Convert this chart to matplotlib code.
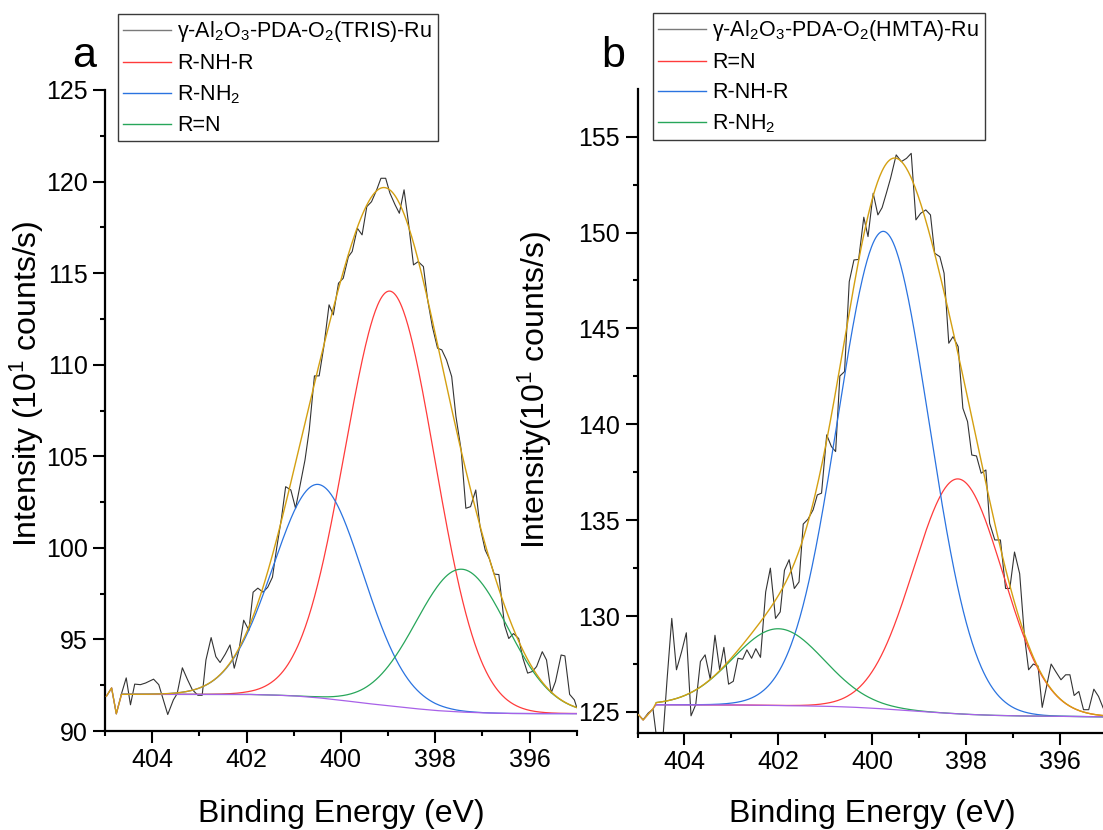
import numpy as np
import matplotlib
matplotlib.use('Agg')
import matplotlib.pyplot as plt
from matplotlib.ticker import MultipleLocator

plt.rcParams['font.family'] = ['Liberation Sans', 'DejaVu Sans']
plt.rcParams['mathtext.fontset'] = 'custom'
plt.rcParams['mathtext.rm'] = 'Liberation Sans'
plt.rcParams['mathtext.it'] = 'Liberation Sans:italic'
plt.rcParams['mathtext.bf'] = 'Liberation Sans:bold'
plt.rcParams['mathtext.default'] = 'regular'

# ---------------- Panel a : gamma-Al2O3-PDA-O2(TRIS)-Ru ----------------
a_raw_E = [404.97, 404.86, 404.76, 404.65, 404.55, 404.46, 404.37, 404.25, 404.14, 403.97,
           403.86, 403.67, 403.55, 403.47, 403.36, 403.25, 403.15, 403.03, 402.94, 402.86,
           402.75, 402.65, 402.56, 402.45, 402.35, 402.26, 402.16, 402.06, 401.95, 401.86,
           401.76, 401.65, 401.55, 401.45, 401.36, 401.26, 401.17, 401.06, 400.96, 400.87,
           400.76, 400.67, 400.56, 400.46, 400.36, 400.25, 400.16, 400.05, 399.95, 399.84,
           399.76, 399.65, 399.55, 399.45, 399.35, 399.24, 399.15, 399.05, 398.96, 398.85,
           398.76, 398.66, 398.57, 398.46, 398.36, 398.25, 398.16, 398.06, 397.95, 397.86,
           397.76, 397.65, 397.56, 397.45, 397.35, 397.25, 397.14, 397.05, 396.94, 396.85,
           396.75, 396.65, 396.53, 396.44, 396.34, 396.23, 396.14, 396.04, 395.94, 395.85,
           395.73, 395.64, 395.54, 395.45, 395.33, 395.25, 395.15, 395.05, 395.0]
a_raw_I = [91.9, 92.35, 90.94, 92.04, 92.9, 91.43, 92.56, 92.53, 92.62, 92.83,
           92.53, 90.9, 91.7, 92.04, 93.45, 92.8, 92.26, 91.95, 91.95, 93.88,
           95.1, 94.06, 93.74, 94.2, 94.7, 93.43, 94.42, 96.05, 95.5, 97.58,
           97.8, 97.58, 97.85, 98.4, 100.0, 101.6, 103.34, 103.16, 102.16, 103.34,
           104.8, 106.44, 109.39, 109.39, 111.0, 113.27, 112.72, 114.45, 114.72, 115.9,
           116.18, 117.45, 117.09, 118.63, 118.9, 119.55, 120.18, 120.18, 119.37, 118.73,
           118.27, 119.55, 117.82, 115.45, 115.63, 115.36, 113.54, 112.08, 110.9, 110.81,
           110.26, 109.35, 107.17, 105.35, 102.16, 102.25, 103.16, 101.16, 99.88, 99.39,
           98.57, 98.54, 95.78, 95.05, 95.32, 95.05, 93.97, 93.16, 93.25, 93.52,
           94.33, 93.88, 92.08, 92.7, 94.15, 94.1, 92.0, 91.7, 91.3]
a_pre_E = [404.97, 404.86, 404.76]          # envelope/baseline follow raw before fit window
a_pre_I = [91.9, 92.35, 90.94]
a_bg_E = [404.65, 402.0, 401.5, 401.0, 400.5, 400.0, 399.5, 399.0, 398.5, 398.0, 397.5, 397.0, 396.5, 396.0, 395.0]
a_bg_I = [92.0, 92.0, 91.97, 91.92, 91.82, 91.68, 91.52, 91.38, 91.24, 91.12, 91.04, 90.99, 90.96, 90.95, 90.95]
a_labels = ['R-NH-R', 'R-NH$_2$', 'R=N']
a_centers = [398.96, 400.48, 397.44]
a_heights = [22.65, 11.65, 7.8]
a_sigmas = [0.95, 0.95, 0.97]
a_name = 'γ-Al$_2$O$_3$-PDA-O$_2$(TRIS)-Ru'

# ---------------- Panel b : gamma-Al2O3-PDA-O2(HMTA)-Ru ----------------
b_raw_E = [404.98, 404.88, 404.77, 404.67, 404.57, 404.46, 404.37, 404.27, 404.17, 404.06,
           403.96, 403.86, 403.76, 403.66, 403.56, 403.45, 403.35, 403.25, 403.16, 403.06,
           402.96, 402.86, 402.76, 402.67, 402.57, 402.48, 402.38, 402.27, 402.17, 402.06,
           401.96, 401.87, 401.77, 401.66, 401.56, 401.47, 401.37, 401.26, 401.17, 401.08,
           400.97, 400.87, 400.78, 400.69, 400.59, 400.49, 400.39, 400.29, 400.18, 400.09,
           399.98, 399.88, 399.79, 399.70, 399.61, 399.49, 399.38, 399.27, 399.17, 399.07,
           398.97, 398.86, 398.76, 398.67, 398.56, 398.47, 398.37, 398.28, 398.17, 398.07,
           397.97, 397.88, 397.78, 397.68, 397.58, 397.50, 397.39, 397.27, 397.16, 397.07,
           396.97, 396.86, 396.76, 396.67, 396.57, 396.47, 396.38, 396.28, 396.19, 396.09,
           395.98, 395.88, 395.79, 395.70, 395.60, 395.50, 395.39, 395.28, 395.18, 395.08]
b_raw_I = [124.86, 124.6, 124.95, 125.15, 123.2, 123.6, 126.7, 129.88, 127.2, 128.15,
           129.13, 124.8, 125.38, 127.63, 127.98, 126.7, 129.0, 127.2, 128.37, 126.45,
           126.6, 127.8, 127.75, 128.24, 127.8, 128.3, 127.85, 131.26, 132.5, 129.88,
           130.22, 132.39, 132.94, 131.44, 131.78, 134.8, 135.05, 135.54, 136.32, 136.41,
           139.45, 138.84, 138.58, 142.52, 142.75, 147.44, 148.57, 148.6, 150.8, 149.79,
           152.05, 150.92, 151.3, 152.05, 152.83, 154.05, 153.7, 153.87, 154.13, 150.66,
           151.0, 151.18, 150.92, 148.92, 148.74, 147.88, 144.23, 144.57, 144.05, 140.84,
           140.14, 138.4, 138.35, 137.45, 137.62, 134.84, 133.97, 133.97, 131.44, 131.44,
           133.34, 132.21, 129.0, 127.2, 127.5, 127.4, 125.24, 126.42, 127.5, 127.1,
           126.68, 126.94, 126.94, 125.86, 126.07, 125.12, 125.12, 126.19, 125.81, 125.2]
b_pre_E = [404.98, 404.88, 404.67]
b_pre_I = [124.86, 124.58, 125.17]
b_bg_E = [404.6, 403.0, 402.0, 401.0, 400.5, 400.0, 399.5, 399.0, 398.5, 398.0, 397.5, 397.0, 396.0, 395.0]
b_bg_I = [125.38, 125.37, 125.34, 125.3, 125.26, 125.2, 125.12, 125.03, 124.95, 124.88, 124.83, 124.8, 124.77, 124.75]
b_labels = ['R=N', 'R-NH-R', 'R-NH$_2$']
b_centers = [398.17, 399.76, 402.0]
b_heights = [12.25, 24.9, 4.0]
b_sigmas = [0.95, 0.97, 0.97]
b_name = 'γ-Al$_2$O$_3$-PDA-O$_2$(HMTA)-Ru'

C_RAW = '#333333'
C_COMP = ['#ff3b3b', '#2a73e0', '#27a65a']
C_BG = '#a861e8'
C_ENV = '#d4a012'

W, H = 1103, 830
fig = plt.figure(figsize=(W / 100, H / 100), dpi=100)


def panel(rect, ylim, yticks, raw_E, raw_I, pre_E, pre_I, bg_E, bg_I,
          centers, heights, sigmas, labels, name, leg_xy):
    ax = fig.add_axes(rect)
    bgE = np.array(bg_E)[::-1]
    bgI = np.array(bg_I)[::-1]
    grid = np.linspace(bg_E[0], 395.0, 600)
    base = np.interp(grid, bgE, bgI)
    handles = []
    h, = ax.plot(raw_E, raw_I, color=C_RAW, lw=0.8, zorder=2)
    handles.append(h)
    total = base.copy()
    for c, hgt, s, col in zip(centers, heights, sigmas, C_COMP):
        comp = hgt * np.exp(-0.5 * ((grid - c) / s) ** 2)
        total += comp
        h, = ax.plot(grid, base + comp, color=col, lw=0.9, zorder=3)
        handles.append(h)
    ax.plot(list(pre_E) + list(grid), list(pre_I) + list(base), color=C_BG, lw=0.9, zorder=4)
    ax.plot(list(pre_E) + list(grid), list(pre_I) + list(total), color=C_ENV, lw=1.0, zorder=5)

    ax.set_xlim(405, 395)
    ax.set_ylim(*ylim)
    ax.xaxis.set_major_locator(MultipleLocator(2))
    ax.xaxis.set_minor_locator(MultipleLocator(1))
    ax.set_yticks(yticks)
    ax.yaxis.set_minor_locator(MultipleLocator(2.5))
    for sp in ['top', 'right']:
        ax.spines[sp].set_visible(False)
    for sp in ['left', 'bottom']:
        ax.spines[sp].set_linewidth(1.6)
    ax.tick_params(which='major', direction='out', length=8.5, width=1.5, labelsize=18, pad=4)
    ax.tick_params(which='minor', direction='out', length=3.8, width=1.5)
    ax.patch.set_alpha(0)

    leg = fig.legend(handles, [name] + labels, loc='upper left',
                     bbox_to_anchor=(leg_xy[0] / W, 1 - leg_xy[1] / H),
                     bbox_transform=fig.transFigure, borderaxespad=0,
                     fontsize=15.5, frameon=True, fancybox=False, framealpha=1,
                     edgecolor='#3a3a3a', handlelength=2.2, handletextpad=0.3,
                     labelspacing=0.42, borderpad=0.25)
    leg.get_frame().set_linewidth(1.0)
    for lh, col in zip(leg.get_lines(), ['#7a7a7a'] + C_COMP):
        lh.set_linewidth(1.0)
        lh.set_color(col)
    return ax


axa = panel([105 / W, 1 - 731 / H, 471.7 / W, 641 / H], (90, 125), list(range(90, 126, 5)),
            a_raw_E, a_raw_I, a_pre_E, a_pre_I, a_bg_E, a_bg_I,
            a_centers, a_heights, a_sigmas, a_labels, a_name, (118, 14))
axb = panel([637.5 / W, 1 - 732.7 / H, 469.5 / W, 643.4 / H], (123.92, 157.47), list(range(125, 156, 5)),
            b_raw_E, b_raw_I, b_pre_E, b_pre_I, b_bg_E, b_bg_I,
            b_centers, b_heights, b_sigmas, b_labels, b_name, (653, 13))

fig.text(72 / W, 1 - 67 / H, 'a', fontsize=31, ha='left', va='baseline')
fig.text(601 / W, 1 - 67 / H, 'b', fontsize=31, ha='left', va='baseline')

fig.text(341 / W, 1 - 822 / H, 'Binding Energy (eV)', fontsize=23, ha='center', va='baseline')
fig.text(872 / W, 1 - 822 / H, 'Binding Energy (eV)', fontsize=23, ha='center', va='baseline')
fig.text(27 / W, 1 - 384 / H, 'Intensity (10$^1$ counts/s)', fontsize=23, rotation=90,
         ha='center', va='center')
fig.text(535 / W, 1 - 390 / H, 'Intensity(10$^1$ counts/s)', fontsize=23, rotation=90,
         ha='center', va='center')

fig.savefig('out.png', dpi=100)
